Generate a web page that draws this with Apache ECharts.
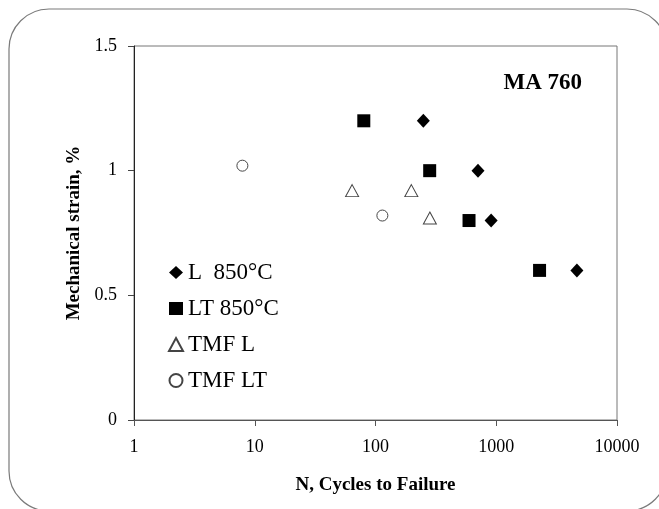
<!DOCTYPE html>
<html>
<head>
<meta charset="utf-8">
<script src="https://cdn.jsdelivr.net/npm/echarts@6/dist/echarts.min.js"></script>
<style>
html,body{margin:0;padding:0;background:#fff;}
#chart{width:659px;height:509px;}
</style>
</head>
<body>
<div id="chart"></div>
<script>
// 数据：循环次数 / 机械应变
const lCycles = [249, 706, 907, 4655];
const lStrain = [1.2, 1.0, 0.8, 0.6];
const ltCycles = [80, 281, 595, 2284];
const ltStrain = [1.2, 1.0, 0.8, 0.6];
const tmfLCycles = [64, 198, 282];
const tmfLStrain = [0.92, 0.92, 0.81];
const tmfLtCycles = [7.9, 114];
const tmfLtStrain = [1.02, 0.82];
const seriesNames = ['L  850°C', 'LT 850°C', 'TMF L', 'TMF LT'];

const font = 'Liberation Serif, Times New Roman, serif';
const pairs = (xs, ys) => xs.map((x, i) => [x, ys[i]]);

let myCharts = echarts.init(document.getElementById('chart'));
myCharts.setOption({
    animation: false,
    // 外框圆角（右侧和底部超出画面）
    graphic: [{
        type: 'rect',
        shape: { x: 9, y: 9, width: 658, height: 502, r: 40 },
        style: { fill: 'none', stroke: '#7a7a7a', lineWidth: 1.2 },
        silent: true
    }],
    title: {
        text: 'MA 760',
        right: 72,
        top: 67,
        textStyle: { fontFamily: font, fontSize: 23, fontWeight: 'bold', color: '#000' }
    },
    legend: {
        orient: 'vertical',
        left: 163,
        top: 256,
        itemWidth: 14,
        itemHeight: 13,
        itemGap: 13,
        textStyle: { fontFamily: font, fontSize: 23, color: '#000' },
        data: seriesNames
    },
    grid: {
        left: 134,
        right: 42,
        top: 46,
        bottom: 89,
        show: true,
        borderColor: '#777',
        borderWidth: 1
    },
    xAxis: {
        type: 'log',
        logBase: 10,
        min: 1,
        max: 10000,
        name: 'N, Cycles to Failure',
        nameLocation: 'middle',
        nameGap: 56,
        nameTextStyle: { fontFamily: font, fontSize: 19, fontWeight: 'bold', color: '#000' },
        axisLine: { show: true, lineStyle: { color: '#555' } },
        axisTick: { show: true, length: 6, lineStyle: { color: '#555' } },
        minorTick: { show: false },
        splitLine: { show: false },
        axisLabel: {
            margin: 18,
            fontFamily: font,
            fontSize: 18,
            color: '#000',
            formatter: v => String(Math.round(v))
        }
    },
    yAxis: {
        type: 'value',
        min: 0,
        max: 1.5,
        interval: 0.5,
        name: 'Mechanical strain, %',
        nameLocation: 'middle',
        nameGap: 50,
        nameTextStyle: { fontFamily: font, fontSize: 19, fontWeight: 'bold', color: '#000' },
        axisLine: { show: true, lineStyle: { color: '#222' } },
        axisTick: { show: true, length: 6, lineStyle: { color: '#444' } },
        splitLine: { show: false },
        axisLabel: { margin: 17, fontFamily: font, fontSize: 18, color: '#000' }
    },
    series: [
        {
            name: seriesNames[0],
            type: 'scatter',
            symbol: 'diamond',
            symbolSize: [13, 14],
            itemStyle: { color: '#000', opacity: 1 },
            data: pairs(lCycles, lStrain)
        },
        {
            name: seriesNames[1],
            type: 'scatter',
            symbol: 'rect',
            symbolSize: 13,
            itemStyle: { color: '#000', opacity: 1 },
            data: pairs(ltCycles, ltStrain)
        },
        {
            name: seriesNames[2],
            type: 'scatter',
            symbol: 'triangle',
            symbolSize: [13, 12],
            itemStyle: { color: '#fff', borderColor: '#444', borderWidth: 1, opacity: 1 },
            data: pairs(tmfLCycles, tmfLStrain)
        },
        {
            name: seriesNames[3],
            type: 'scatter',
            symbol: 'circle',
            symbolSize: 11,
            itemStyle: { color: '#fff', borderColor: '#444', borderWidth: 1, opacity: 1 },
            data: pairs(tmfLtCycles, tmfLtStrain)
        }
    ]
});
</script>
</body>
</html>
